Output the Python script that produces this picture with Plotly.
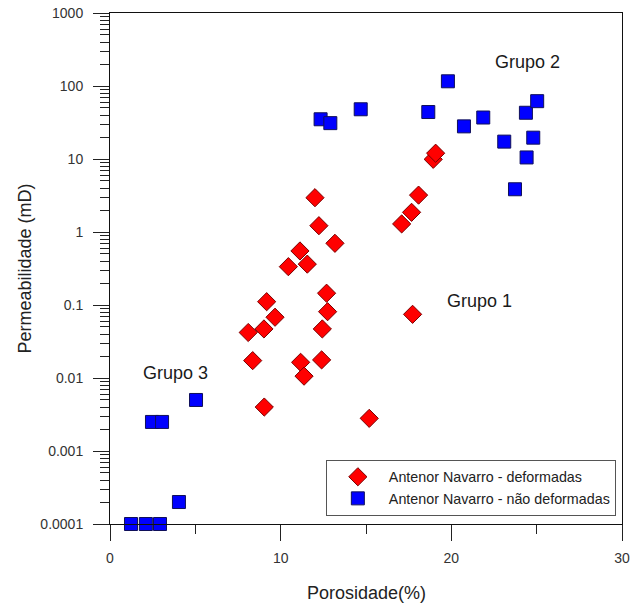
import math
import plotly.graph_objects as go

# Antenor Navarro - deformadas (red diamonds)
por_def = [12.01, 12.24, 13.18, 11.13, 10.45, 11.56, 12.69, 9.18, 9.67, 12.75,
           8.10, 9.02, 12.44, 17.73, 8.36, 11.17, 12.40, 11.37, 9.04, 15.19,
           17.09, 17.67, 18.08, 18.94, 19.08]
perm_def = [2.95, 1.22, 0.70, 0.55, 0.335, 0.363, 0.145, 0.111, 0.068, 0.081,
            0.042, 0.047, 0.047, 0.0745, 0.0173, 0.0164, 0.0177, 0.0106, 0.0040, 0.0028,
            1.29, 1.86, 3.2, 9.9, 12.0]

# Antenor Navarro - não deformadas (blue squares)
por_nd = [19.80, 12.34, 12.91, 14.69, 18.65, 20.74, 21.87, 23.10, 24.37, 25.03,
          24.80, 24.41, 23.73, 5.04, 2.46, 3.05, 4.04, 1.23, 2.10, 2.93]
perm_nd = [116, 35, 31, 48, 44, 28, 37, 17.3, 43, 62,
           19.6, 10.5, 3.85, 0.005, 0.0025, 0.0025, 0.0002, 0.0001, 0.0001, 0.0001]

y_tickvals = [1000, 100, 10, 1, 0.1, 0.01, 0.001, 0.0001]
y_ticktext = ["1000", "100", "10", "1", "0.1", "0.01", "0.001", "0.0001"]
y_minor = [m * 10.0 ** e for e in range(-4, 3) for m in range(2, 10)]
x_tickvals = [0, 10, 20, 30]
x_minor = [5, 15, 25]

groups = ["Grupo 2", "Grupo 1", "Grupo 3"]
group_x = [24.49, 21.66, 3.86]
group_y = [215, 0.1146, 0.0116]

FONT = "Liberation Sans, Arial"

fig = go.Figure()
fig.add_trace(go.Scatter(
    x=por_def, y=perm_def, mode="markers", name="Antenor Navarro - deformadas",
    marker=dict(symbol="diamond", size=14, color="#FF0000",
                line=dict(color="#7a0000", width=1)),
    cliponaxis=False))
fig.add_trace(go.Scatter(
    x=por_nd, y=perm_nd, mode="markers", name="Antenor Navarro - não deformadas",
    marker=dict(symbol="square", size=13, color="#0000FF",
                line=dict(color="#10105a", width=1)),
    cliponaxis=False))

for g, gx, gy in zip(groups, group_x, group_y):
    fig.add_annotation(x=gx, y=math.log10(gy), text=g, showarrow=False,
                       font=dict(family=FONT, size=18, color="#1a1a1a"),
                       xanchor="center", yanchor="middle")

# axis titles
fig.add_annotation(xref="paper", yref="paper", x=-86 / 512, y=0.5,
                   text="Permeabilidade (mD)", textangle=-90, showarrow=False,
                   font=dict(family=FONT, size=18, color="#222222"),
                   xanchor="center", yanchor="middle")
fig.add_annotation(xref="paper", yref="paper", x=(366 - 110) / 512, y=-(593 - 524) / 511,
                   text="Porosidade(%)", showarrow=False,
                   font=dict(family=FONT, size=18, color="#222222"),
                   xanchor="center", yanchor="middle")

fig.update_layout(
    width=641, height=605, autosize=False,
    margin=dict(l=110, r=19, t=13, b=81),
    paper_bgcolor="white", plot_bgcolor="white",
    font=dict(family=FONT, size=14, color="#333333"),
    showlegend=True,
    legend=dict(x=0.988, xanchor="right", y=0.0157, yanchor="bottom",
                bordercolor="#555555", borderwidth=1, bgcolor="white",
                font=dict(size=14.3, color="#222222"),
                itemwidth=52, tracegroupgap=0),
)
fig.update_xaxes(
    range=[0, 30], tickvals=x_tickvals, ticks="outside", ticklen=16,
    tickcolor="#222222", showline=True, linecolor="#111111", linewidth=1,
    mirror=True, showgrid=False, zeroline=False, ticklabelstandoff=5,
    automargin=False,
    minor=dict(ticks="outside", ticklen=9, tickcolor="#222222",
               tickmode="array", tickvals=x_minor, showgrid=False),
)
fig.update_yaxes(
    type="log", range=[-4, 3], tickvals=y_tickvals, ticktext=y_ticktext,
    ticks="outside", ticklen=16, tickcolor="#222222",
    showline=True, linecolor="#111111", linewidth=1, mirror=True,
    showgrid=False, zeroline=False, ticklabelstandoff=7, automargin=False,
    minor=dict(ticks="outside", ticklen=9, tickcolor="#222222",
               tickmode="array", tickvals=y_minor, showgrid=False),
)

fig.write_html("out.html")
